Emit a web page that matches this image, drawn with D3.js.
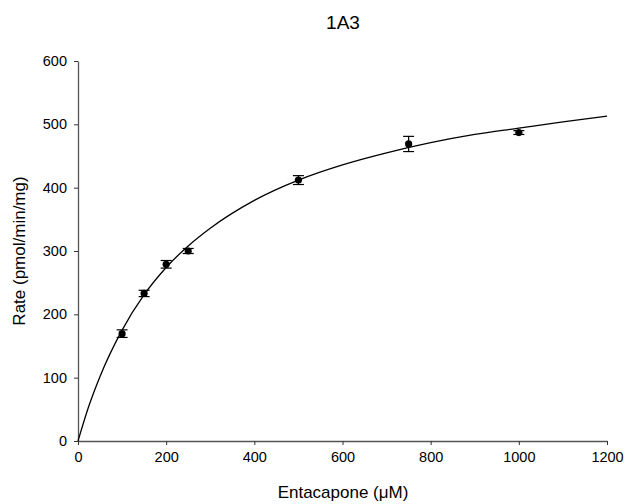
<!DOCTYPE html>
<html>
<head>
<meta charset="utf-8">
<script src="https://cdn.jsdelivr.net/npm/d3@7"></script>
<style>
  body { margin: 0; background: #fff; }
  text { font-family: "Liberation Sans", Arial, sans-serif; fill: #000; }
</style>
</head>
<body>
<svg id="chart"></svg>
<script>
// data
const conc = [100, 150, 200, 250, 500, 750, 1000];
const rate = [169.5, 233, 279, 300, 412, 469, 487];
const err = [6, 5, 6, 4, 7, 12, 3];

// fitted curve
const curveX = [0, 25, 50, 100, 150, 200, 250, 300, 400, 500, 600, 700, 800, 900, 1000, 1100, 1200];
const curveY = [0, 56, 102, 175, 231, 274, 308, 336, 380, 412, 436, 455, 471, 484, 494, 504, 513];

const xTicks = [0, 200, 400, 600, 800, 1000, 1200];
const yTicks = [0, 100, 200, 300, 400, 500, 600];

// config
const width = 626;
const height = 504;
const margin = { left: 78, right: 19, top: 61, bottom: 63 };

const svg = d3.select("#chart")
  .attr("width", width)
  .attr("height", height);

const x = d3.scaleLinear()
  .domain([0, 1200])
  .range([margin.left, width - margin.right]);

const y = d3.scaleLinear()
  .domain([0, 600])
  .range([height - margin.bottom, margin.top]);

// axes
const xAxis = svg.append("g")
  .attr("transform", `translate(0,${height - margin.bottom})`)
  .call(d3.axisBottom(x).tickValues(xTicks).tickFormat(d3.format("d"))
    .tickSize(4).tickPadding(7).tickSizeOuter(0));

const yAxis = svg.append("g")
  .attr("transform", `translate(${margin.left},0)`)
  .call(d3.axisLeft(y).tickValues(yTicks).tickFormat(d3.format("d"))
    .tickSize(4).tickPadding(7).tickSizeOuter(0));

[xAxis, yAxis].forEach(a => {
  a.select(".domain").attr("stroke", "#555").attr("stroke-width", 1.3);
  a.selectAll(".tick line").attr("stroke", "#333");
  a.selectAll(".tick text")
    .attr("font-family", "Liberation Sans, Arial, sans-serif")
    .attr("font-size", 14.5)
    .attr("fill", "#000");
});

// curve
const line = d3.line()
  .x((d, i) => x(curveX[i]))
  .y(d => y(d))
  .curve(d3.curveMonotoneX);

svg.append("path")
  .datum(curveY)
  .attr("d", line)
  .attr("fill", "none")
  .attr("stroke", "#000")
  .attr("stroke-width", 1.3);

// error bars
const pts = conc.map((c, i) => ({ c, r: rate[i], e: err[i] }));
const bars = svg.append("g").selectAll("g")
  .data(pts)
  .join("g")
  .attr("stroke", "#000")
  .attr("stroke-width", 1.2);

bars.append("line")
  .attr("x1", d => x(d.c)).attr("x2", d => x(d.c))
  .attr("y1", d => y(d.r - d.e)).attr("y2", d => y(d.r + d.e));
bars.append("line")
  .attr("x1", d => x(d.c) - 5.5).attr("x2", d => x(d.c) + 5.5)
  .attr("y1", d => y(d.r + d.e)).attr("y2", d => y(d.r + d.e));
bars.append("line")
  .attr("x1", d => x(d.c) - 5.5).attr("x2", d => x(d.c) + 5.5)
  .attr("y1", d => y(d.r - d.e)).attr("y2", d => y(d.r - d.e));

// points
svg.append("g").selectAll("circle")
  .data(pts)
  .join("circle")
  .attr("cx", d => x(d.c))
  .attr("cy", d => y(d.r))
  .attr("r", 3.6)
  .attr("fill", "#000");

// labels
svg.append("text")
  .attr("x", 343).attr("y", 29)
  .attr("text-anchor", "middle")
  .attr("font-size", 19)
  .text("1A3");

svg.append("text")
  .attr("x", 343).attr("y", 498)
  .attr("text-anchor", "middle")
  .attr("font-size", 17)
  .text("Entacapone (μM)");

svg.append("text")
  .attr("transform", `translate(25,${(margin.top + height - margin.bottom) / 2}) rotate(-90)`)
  .attr("text-anchor", "middle")
  .attr("font-size", 17)
  .text("Rate (pmol/min/mg)");
</script>
</body>
</html>
